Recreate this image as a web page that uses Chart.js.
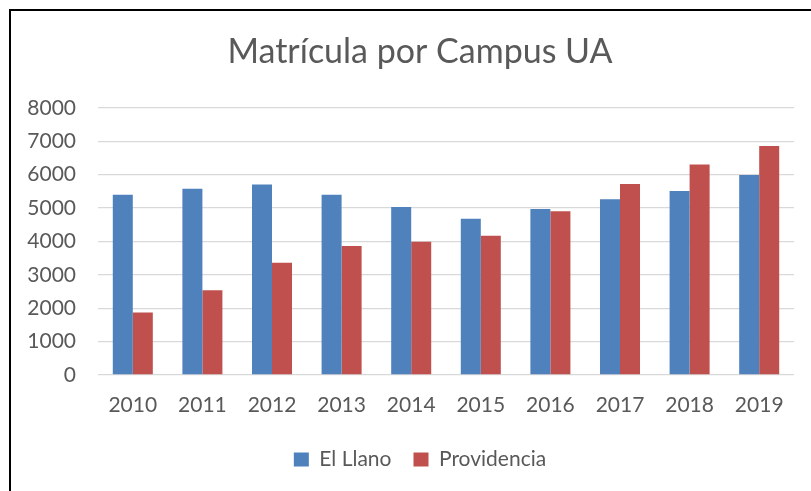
<!DOCTYPE html>
<html>
<head>
<meta charset="utf-8">
<script src="https://cdn.jsdelivr.net/npm/chart.js@4"></script>
<style>
  html, body { margin: 0; padding: 0; background: #fff; overflow: hidden; }
  .frame {
    position: absolute; left: 9px; top: 9px; width: 900px; height: 600px;
    border-left: 2px solid #000; border-top: 2px solid #000;
  }
  .wrap { position: absolute; left: 0; top: 0; width: 811px; height: 491px; }
</style>
</head>
<body>
<div class="frame"></div>
<div class="wrap"><canvas id="bar-chart"></canvas></div>
<script>
const years = ['2010', '2011', '2012', '2013', '2014', '2015', '2016', '2017', '2018', '2019'];
const elLlano = [5400, 5580, 5700, 5400, 5030, 4680, 4970, 5260, 5510, 5990];
const providencia = [1870, 2540, 3360, 3860, 3990, 4170, 4900, 5720, 6300, 6860];
const yTicks = [0, 1000, 2000, 3000, 4000, 5000, 6000, 7000, 8000];

const gray = '#595959';
const fontFamily = 'Lato, "Noto Sans", sans-serif';

// the original frame is wider than the window, so title and legend sit right of centre
const shiftBoxes = {
    id: 'shiftBoxes',
    afterLayout(chart) {
        [chart.titleBlock, chart.legend].forEach(box => {
            if (box) {
                box.left += 23;
                box.right += 23;
            }
        });
    }
};

const ctx = document.getElementById('bar-chart').getContext('2d');
const myChart = new Chart(ctx, {
    type: 'bar',
    data: {
        labels: years,
        datasets: [{
            label: 'El Llano',
            data: elLlano,
            backgroundColor: '#4f81bd',
            categoryPercentage: 0.575,
            barPercentage: 1,
        }, {
            label: 'Providencia',
            data: providencia,
            backgroundColor: '#c0504d',
            categoryPercentage: 0.575,
            barPercentage: 1,
        }],
    },
    options: {
        responsive: true,
        maintainAspectRatio: false,
        animation: false,
        layout: {
            padding: { top: 0, right: 17, bottom: 11, left: 0 }
        },
        scales: {
            y: {
                min: 0,
                max: 8000,
                afterFit: (scale) => { scale.width = 98; },
                afterBuildTicks: (scale) => {
                    scale.ticks = yTicks.map(v => ({ value: v }));
                },
                grid: {
                    color: '#d9d9d9',
                    lineWidth: 1.3,
                    drawTicks: false,
                },
                border: { display: false },
                ticks: {
                    color: gray,
                    padding: 22,
                    font: { family: fontFamily, size: 21 },
                    callback: (v) => String(v),
                }
            },
            x: {
                afterFit: (scale) => { scale.height = 52; },
                grid: { display: false, drawTicks: false },
                border: { display: false },
                ticks: {
                    color: gray,
                    padding: 18,
                    font: { family: fontFamily, size: 21 },
                }
            }
        },
        plugins: {
            title: {
                display: true,
                text: 'Matrícula por Campus UA',
                color: gray,
                font: { family: fontFamily, size: 34, weight: 'normal' },
                padding: { top: 32, bottom: 35 },
            },
            legend: {
                display: true,
                position: 'bottom',
                labels: {
                    color: gray,
                    boxWidth: 15,
                    boxHeight: 14,
                    padding: 22,
                    font: { family: fontFamily, size: 21 },
                }
            },
            tooltip: { enabled: false }
        }
    },
    plugins: [shiftBoxes]
});
</script>
</body>
</html>
